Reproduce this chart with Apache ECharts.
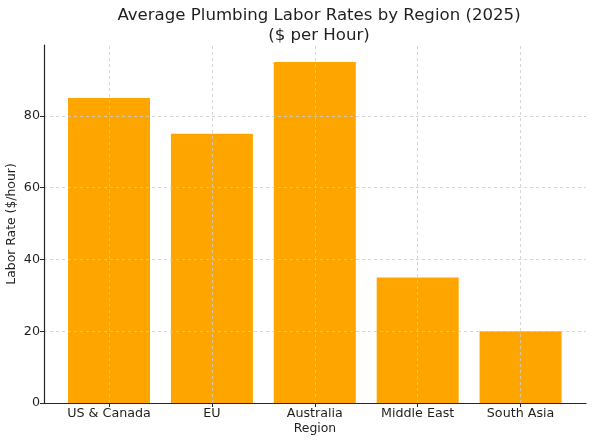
<!DOCTYPE html>
<html><head><meta charset="utf-8">
<script src="https://cdn.jsdelivr.net/npm/echarts@6/dist/echarts.min.js"></script>
<style>html,body{margin:0;padding:0;background:#fff}#c{width:594px;height:443px}</style>
</head><body><div id="c"></div>
<script>
const categories = ["US & Canada", "EU", "Australia", "Middle East", "South Asia"];
const rates = [85, 75, 95, 35, 20];
const yTicks = [0, 20, 40, 60, 80];
const positions = categories.map((_, i) => i);

const font = "DejaVu Sans";
const chart = echarts.init(document.getElementById('c'), null, {renderer: 'canvas'});
chart.setOption({
  animation: false,
  backgroundColor: '#ffffff',
  title: {
    text: 'Average Plumbing Labor Rates by Region (2025)\n($ per Hour)',
    left: 314, top: 1, textAlign: 'center',
    textStyle: {fontFamily: font, fontSize: 16.6, fontWeight: 'normal', color: '#1f1f1f', lineHeight: 19.5}
  },
  grid: {left: 44, right: 8, top: 45, bottom: 40, outerBoundsMode: 'none', containLabel: false},
  xAxis: {
    type: 'value', min: -0.632, max: 4.636, z: 6,
    name: 'Region', nameLocation: 'middle', nameGap: 20, nameMoveOverlap: false,
    nameTextStyle: {fontFamily: font, fontSize: 12.4, color: '#1f1f1f', verticalAlign: 'top'},
    axisLine: {show: true, onZero: false, lineStyle: {color: '#262626', width: 1.2}},
    axisTick: {show: true, customValues: positions, length: 4, lineStyle: {color: '#262626'}},
    axisLabel: {customValues: positions, formatter: v => categories[Math.round(v)],
      fontFamily: font, fontSize: 12.7, color: '#1f1f1f', margin: 4},
    splitLine: {show: false}
  },
  yAxis: {
    type: 'value', min: 0, max: 99.75, z: 5,
    name: 'Labor Rate ($/hour)', nameLocation: 'middle', nameGap: 26, nameRotate: 90, nameMoveOverlap: false,
    nameTextStyle: {fontFamily: font, fontSize: 12.4, color: '#1f1f1f', verticalAlign: 'bottom'},
    axisLine: {show: true, onZero: false, lineStyle: {color: '#262626', width: 1.2}},
    axisTick: {show: true, customValues: yTicks, length: 4, lineStyle: {color: '#262626'}},
    axisLabel: {customValues: yTicks, fontFamily: font, fontSize: 12.7, color: '#1f1f1f', margin: 4},
    splitLine: {show: true, customValues: yTicks, lineStyle: {color: '#cccccc', type: [3, 3], width: 0.8}}
  },
  series: [{
    type: 'bar',
    data: positions.map((p, i) => [p, rates[i]]),
    barWidth: 82,
    itemStyle: {color: '#FFA500'},
    markLine: {
      silent: true, symbol: 'none', label: {show: false},
      lineStyle: {color: '#cccccc', type: [3, 3], width: 0.8},
      data: positions.map(p => ({xAxis: p}))
    }
  }]
});
</script></body></html>
